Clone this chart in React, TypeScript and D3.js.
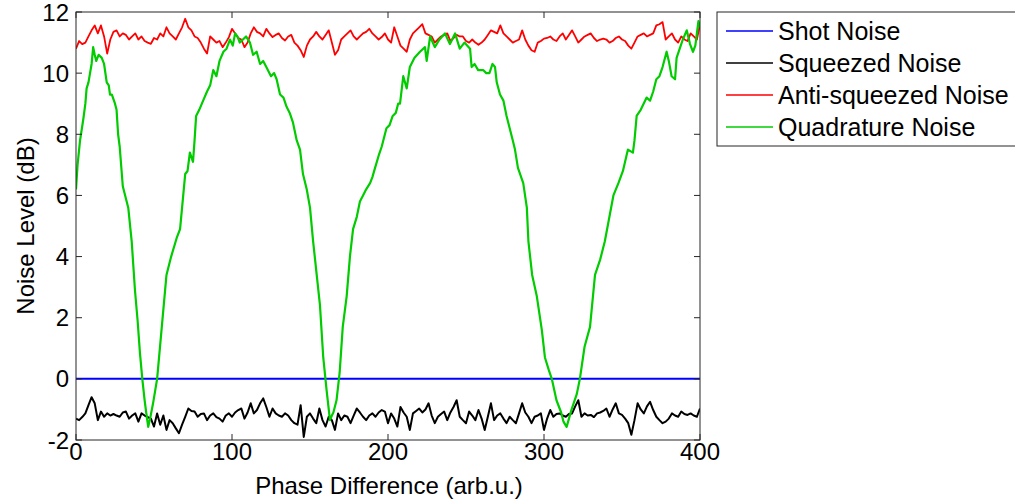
import React from "react";
import * as d3 from "d3";

const xTicks = [0, 100, 200, 300, 400];
const yTicks = [-2, 0, 2, 4, 6, 8, 10, 12];

const seriesNames = ["Shot Noise", "Squeezed Noise", "Anti-squeezed Noise", "Quadrature Noise"];
const seriesColors = ["#0000ff", "#000000", "#ff0000", "#00cc00"];

// Shot noise level (dB)
const shotNoise: [number, number][] = [[0, 0], [400, 0]];

// Squeezed noise, sampled every 2 arb.u.
const squeezed = [
  -1.3, -1.35, -1.25, -1.13, -0.86, -0.6, -0.8, -1.35, -1.07, -1.24, -1.13, -1.2, -1.15, -1.2, -1.24, -1.1, -1.07, -1.3, -1.2, -1.13,
  -1.4, -1.13, -1.2, -1.25, -1.3, -1.56, -1.13, -1.5, -1.2, -1.67, -1.35, -1.45, -1.62, -1.78, -1.5, -1.24, -0.97, -1.05, -1.07, -1.24,
  -1.15, -1.13, -1.35, -1.2, -1.13, -1.25, -1.3, -1.4, -1.2, -1.13, -1.24, -1.1, -1.02, -0.97, -1.3, -1.1, -0.8, -1.13, -1.02, -0.8,
  -0.64, -0.92, -1.24, -0.97, -1.13, -1.2, -1.24, -1.13, -1.2, -1.35, -1.45, -1.5, -0.86, -1.9, -1.24, -1.13, -1.3, -1.45, -0.97, -1.35,
  -1.56, -1.24, -1.35, -1.67, -1.13, -1.35, -1.2, -1.24, -1.45, -1.2, -0.97, -1.1, -1.24, -1.35, -1.2, -1.13, -1.24, -1.1, -1.02, -1.07,
  -1.45, -1.13, -1.3, -1.56, -0.92, -1.1, -1.24, -1.67, -1.13, -1.05, -0.97, -1.1, -1.0, -0.8, -1.2, -1.45, -1.24, -1.15, -1.07, -1.35,
  -1.1, -0.92, -0.7, -1.24, -1.35, -1.45, -1.07, -1.2, -1.35, -1.02, -1.3, -1.67, -1.24, -0.8, -1.35, -1.2, -1.13, -1.3, -1.45, -1.24,
  -1.35, -1.45, -1.13, -0.8, -1.1, -1.24, -1.45, -1.24, -1.2, -1.13, -1.67, -1.3, -1.02, -1.24, -1.15, -1.13, -1.2, -1.24, -1.15, -1.13,
  -0.9, -0.7, -1.24, -1.13, -1.2, -1.18, -1.25, -1.13, -1.1, -1.05, -0.97, -1.24, -1.0, -0.8, -1.13, -1.18, -1.3, -1.45, -1.83, -1.35,
  -0.8, -1.0, -1.13, -0.9, -0.75, -1.02, -1.24, -1.35, -1.45, -1.4, -1.3, -1.13, -1.2, -1.24, -1.07, -1.15, -1.18, -1.13, -1.2, -1.24,
  -0.97,
];

// Anti-squeezed noise, sampled every 2 arb.u.
const antiSqueezed = [
  10.8, 11.05, 10.95, 11.0, 11.2, 11.4, 11.56, 11.3, 11.56, 11.2, 10.64, 11.1, 11.35, 11.4, 11.2, 11.3, 11.25, 11.1, 11.2, 11.3,
  11.1, 11.2, 11.05, 11.0, 10.96, 11.15, 11.1, 11.3, 11.2, 11.5, 11.3, 11.2, 11.1, 11.3, 11.5, 11.78, 11.5, 11.4, 11.2, 11.15,
  11.0, 10.8, 10.64, 11.2, 11.1, 11.0, 11.05, 10.85, 11.0, 11.18, 11.45, 11.3, 11.15, 11.1, 10.85, 11.0, 11.3, 11.5, 11.35, 11.3,
  11.2, 11.45, 11.3, 11.18, 11.25, 11.3, 11.15, 11.07, 11.2, 11.25, 11.0, 10.9, 10.75, 10.53, 10.9, 11.1, 11.2, 11.35, 11.2, 11.1,
  11.25, 11.4, 11.0, 10.6, 10.75, 11.1, 11.2, 11.3, 11.4, 11.2, 11.1, 11.2, 11.3, 11.35, 11.45, 11.3, 11.2, 11.1, 11.18, 11.3,
  11.1, 11.0, 11.5, 11.2, 10.9, 10.8, 10.7, 11.1, 11.3, 11.4, 11.5, 11.6, 11.3, 11.25, 11.2, 11.0, 11.1, 11.2, 11.25, 11.3,
  11.05, 11.15, 11.25, 11.2, 11.2, 11.05, 11.0, 11.1, 11.0, 10.93, 11.0, 11.1, 11.25, 11.4, 11.35, 11.3, 11.56, 11.3, 11.2, 11.1,
  11.0, 11.05, 11.1, 11.4, 11.1, 10.9, 10.75, 10.7, 11.0, 11.05, 11.13, 11.15, 11.2, 11.1, 11.05, 11.2, 11.3, 11.1, 11.25, 11.4,
  11.2, 11.0, 11.1, 11.2, 11.25, 11.3, 11.15, 11.05, 11.1, 11.13, 11.1, 11.0, 11.05, 11.15, 11.2, 11.1, 11.05, 10.9, 10.8, 11.0,
  11.2, 11.25, 11.3, 11.2, 11.25, 11.3, 11.56, 11.6, 11.67, 11.1, 11.2, 11.3, 11.1, 11.0, 11.2, 11.1, 11.05, 11.3, 11.2, 11.1,
  11.6,
];

// Quadrature noise, [phase, dB]
const quadrature: [number, number][] = [
  [0, 6.2], [1, 7.0], [2.6, 7.8], [4.7, 8.5], [6, 9.0], [6.8, 9.5], [8, 9.7], [9, 10.0], [10, 10.3], [11, 10.85],
  [12, 10.6], [13, 10.4], [14.5, 10.6], [16.5, 10.5], [18, 10.3], [19.7, 9.7], [21, 9.6], [21.8, 9.3], [23, 9.3], [25, 9.0],
  [26, 8.8], [27, 8.0], [28, 7.6], [30, 6.3], [31.5, 6.0], [33.5, 5.6], [35.7, 4.5], [37.8, 2.9], [39.5, 1.9], [41, 0.84],
  [42.5, 0.0], [44, -0.7], [45, -1.1], [46.3, -1.57], [47.5, -1.3], [49.4, -0.8], [52, 0.0], [55, 1.7], [58, 3.4], [61, 4.0],
  [64.5, 4.6], [66.7, 4.9], [68, 5.6], [70, 6.7], [71.5, 6.8], [73, 7.4], [75, 7.1], [76, 7.8], [77, 8.6], [79, 8.8],
  [81.5, 9.1], [84, 9.4], [86, 9.6], [88, 10.1], [90, 9.9], [92, 10.4], [94.5, 10.7], [96.5, 10.8], [98.7, 11.1], [100.5, 10.9],
  [102, 11.3], [103.5, 11.2], [105, 11.0], [107, 11.1], [109, 11.2], [111.5, 11.0], [113.5, 10.6], [115.8, 10.7], [118, 10.3], [120, 10.4],
  [122, 10.2], [125, 9.9], [127, 10.0], [128.6, 9.8], [130.8, 9.3], [133, 9.2], [135, 8.9], [137, 8.7], [139, 8.4], [141.5, 7.8],
  [143.6, 7.5], [145.5, 6.7], [147.9, 6.2], [150, 5.6], [152, 4.5], [154.3, 3.4], [156.4, 2.4], [158.5, 0.7], [160.7, -0.4], [162.8, -1.35],
  [164, -1.2], [165, -1.1], [167, -0.7], [169, 0.2], [171, 1.7], [173.5, 2.7], [175.6, 4.0], [177.6, 4.9], [180, 5.3], [182, 5.8],
  [184, 6.0], [186, 6.2], [188.5, 6.4], [190, 6.6], [191.7, 6.9], [194, 7.3], [196, 7.6], [199, 8.2], [201, 8.3], [203, 8.6],
  [205, 8.7], [206.5, 9.0], [207.7, 9.0], [209.8, 9.9], [212, 9.5], [214, 10.2], [217, 10.5], [220.5, 10.7], [223.7, 10.85], [224.8, 10.4],
  [227, 11.2], [230, 10.85], [233, 11.1], [236.5, 11.3], [239.7, 10.95], [243, 11.3], [246, 10.8], [249, 11.0], [252.6, 10.8], [253.6, 10.2],
  [255.5, 10.3], [257.8, 10.1], [261, 10.1], [263, 10.0], [265, 10.0], [267, 10.3], [268.6, 10.2], [269.7, 9.7], [271.8, 9.3], [274, 9.1],
  [276, 8.6], [278, 8.2], [280, 7.8], [281.4, 7.5], [283.3, 6.9], [286.7, 6.4], [289, 5.6], [290, 4.5], [292.4, 3.4], [295.4, 2.7],
  [298.6, 1.6], [300.6, 0.7], [303, 0.3], [305, 0.0], [308, -0.7], [311, -1.1], [312.5, -1.4], [314.5, -1.57], [316, -1.3], [317.7, -1.0],
  [319, -0.8], [321, -0.5], [323, 0.0], [326, 1.05], [329.5, 1.7], [332.7, 3.4], [336, 3.9], [339, 4.5], [342.3, 5.4], [344.5, 6.0],
  [347.7, 6.4], [350.6, 6.8], [353.8, 7.5], [357, 7.4], [358, 7.8], [359.4, 8.6], [362, 8.8], [365.8, 9.2], [368, 9.1], [370, 9.4],
  [372, 9.8], [374, 9.9], [376, 10.2], [378.6, 10.7], [380, 10.4], [381.8, 9.9], [384, 9.8], [385, 10.5], [387, 10.8], [389, 11.1],
  [391.5, 11.4], [393.6, 10.95], [395.5, 10.7], [397, 10.9], [398, 11.3], [399, 11.7], [400, 11.5],
];

const STEP = 2;

export default function App() {
  const W = 1015;
  const H = 504;
  const m = { left: 76, top: 12, right: 700, bottom: 440 };
  const x = d3.scaleLinear().domain([0, 400]).range([m.left, m.right]);
  const y = d3.scaleLinear().domain([-2, 12]).range([m.bottom, m.top]);
  const line = d3
    .line<[number, number]>()
    .x((d) => x(d[0]))
    .y((d) => y(d[1]));

  const sq: [number, number][] = squeezed.map((v, i) => [i * STEP, v]);
  const asq: [number, number][] = antiSqueezed.map((v, i) => [i * STEP, v]);

  const font = "'Liberation Sans', Arial, Helvetica, sans-serif";
  const axisColor = "#262626";
  const tickLen = 6;
  const fs = 24;
  const legendFs = 25;

  const legendY = [31, 63, 95, 127];

  return (
    <svg
      width={W}
      height={H}
      style={{ position: "fixed", left: 0, top: 0, background: "#fff" }}
      fontFamily={font}
    >
      <rect x={0} y={0} width={W} height={H} fill="#fff" />
      <defs>
        <clipPath id="plotClip">
          <rect x={m.left} y={m.top} width={m.right - m.left} height={m.bottom - m.top} />
        </clipPath>
      </defs>
      <g clipPath="url(#plotClip)" fill="none" strokeLinejoin="round">
        <path d={line(shotNoise) || ""} stroke={seriesColors[0]} strokeWidth={2} />
        <path d={line(sq) || ""} stroke={seriesColors[1]} strokeWidth={2} />
        <path d={line(asq) || ""} stroke={seriesColors[2]} strokeWidth={1.8} />
        <path d={line(quadrature) || ""} stroke={seriesColors[3]} strokeWidth={2.2} />
      </g>
      {/* axes box */}
      <rect
        x={m.left}
        y={m.top}
        width={m.right - m.left}
        height={m.bottom - m.top}
        fill="none"
        stroke={axisColor}
        strokeWidth={1}
      />
      {/* ticks */}
      {yTicks.map((t) => (
        <g key={"y" + t}>
          <line x1={m.left} x2={m.left + tickLen} y1={y(t)} y2={y(t)} stroke={axisColor} />
          <line x1={m.right} x2={m.right - tickLen} y1={y(t)} y2={y(t)} stroke={axisColor} />
          <text x={m.left - 7} y={y(t)} dy="0.36em" textAnchor="end" fontSize={fs} fill="#000">
            {t}
          </text>
        </g>
      ))}
      {xTicks.map((t) => (
        <g key={"x" + t}>
          <line x1={x(t)} x2={x(t)} y1={m.bottom} y2={m.bottom - tickLen} stroke={axisColor} />
          <line x1={x(t)} x2={x(t)} y1={m.top} y2={m.top + tickLen} stroke={axisColor} />
          <text x={x(t)} y={m.bottom + 20} textAnchor="middle" fontSize={fs} fill="#000">
            {t}
          </text>
        </g>
      ))}
      <text x={(m.left + m.right) / 2 + 1} y={494} textAnchor="middle" fontSize={fs} fill="#000">
        Phase Difference (arb.u.)
      </text>
      <text
        transform={`translate(34, ${(m.top + m.bottom) / 2}) rotate(-90)`}
        textAnchor="middle"
        fontSize={fs}
        fill="#000"
      >
        Noise Level (dB)
      </text>
      {/* legend */}
      <rect x={717} y={12} width={320} height={134} fill="#fff" stroke={axisColor} strokeWidth={1} />
      {seriesNames.map((name, i) => (
        <g key={name}>
          <line x1={726} x2={773} y1={legendY[i]} y2={legendY[i]} stroke={seriesColors[i]} strokeWidth={1.5} />
          <text x={778} y={legendY[i]} dy="0.36em" fontSize={legendFs} fill="#000">
            {name}
          </text>
        </g>
      ))}
    </svg>
  );
}
